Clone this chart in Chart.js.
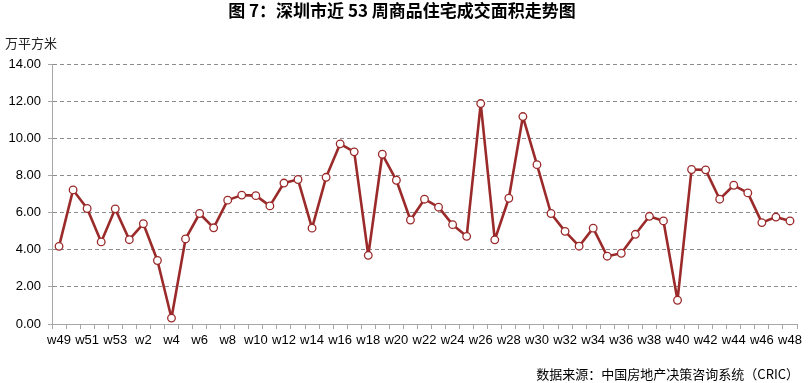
<!DOCTYPE html>
<html>
<head>
<meta charset="utf-8">
<script src="https://cdn.jsdelivr.net/npm/chart.js@4"></script>
<style>
  html, body { margin: 0; padding: 0; background: #fff; }
  #wrap { width: 809px; height: 383px; position: relative; }
</style>
</head>
<body>
<div id="wrap"><canvas id="c" width="809" height="383"></canvas></div>
<script>
const weeks = ['w49','w50','w51','w52','w53','w1','w2','w3','w4','w5','w6','w7','w8','w9','w10','w11','w12','w13','w14','w15','w16','w17','w18','w19','w20','w21','w22','w23','w24','w25','w26','w27','w28','w29','w30','w31','w32','w33','w34','w35','w36','w37','w38','w39','w40','w41','w42','w43','w44','w45','w46','w47','w48'];
const area = [4.18,7.22,6.22,4.42,6.2,4.54,5.4,3.42,0.32,4.58,5.95,5.18,6.67,6.94,6.91,6.36,7.59,7.78,5.16,7.9,9.7,9.27,3.7,9.14,7.74,5.6,6.72,6.29,5.35,4.72,11.87,4.53,6.77,11.17,8.58,5.95,4.99,4.19,5.16,3.65,3.81,4.83,5.8,5.55,1.28,8.32,8.3,6.72,7.47,7.06,5.46,5.76,5.55];
const yTicks = [0,2,4,6,8,10,12,14];
const titleText = '图 7：深圳市近 53 周商品住宅成交面积走势图';
const unitText = '万平方米';
const sourceText = '数据来源：中国房地产决策咨询系统（CRIC）';

const cjk = '"Noto Sans CJK SC", "Noto Sans", sans-serif';
const latin = '"Liberation Sans", Arial, sans-serif';

const textPlugin = {
  id: 'texts',
  afterDraw(chart) {
    const ctx = chart.ctx;
    ctx.save();
    ctx.fillStyle = '#000';
    ctx.textBaseline = 'middle';
    ctx.font = 'bold 17px ' + cjk;
    ctx.textAlign = 'center';
    ctx.fillText(titleText, 402, 11);
    ctx.font = '13px ' + cjk;
    ctx.textAlign = 'left';
    ctx.fillStyle = '#222';
    ctx.fillText(unitText, 5, 43);
    ctx.textAlign = 'right';
    ctx.fillStyle = '#000';
    ctx.fillText(sourceText, 799, 374);
    ctx.restore();
  }
};

new Chart(document.getElementById('c'), {
  type: 'line',
  data: {
    labels: weeks,
    datasets: [{
      data: area,
      borderColor: '#9b2a2a',
      borderWidth: 2.6,
      borderJoinStyle: 'round',
      backgroundColor: '#ffffff',
      pointBackgroundColor: '#ffffff',
      pointBorderColor: '#9b2a2a',
      pointBorderWidth: 1.3,
      pointRadius: 3.8,
      tension: 0,
      fill: false
    }]
  },
  options: {
    responsive: false,
    animation: false,
    devicePixelRatio: 1,
    layout: { padding: { left: 0, right: 12, top: 64, bottom: 0 } },
    plugins: { legend: { display: false }, title: { display: false }, tooltip: { enabled: false } },
    scales: {
      x: {
        offset: true,
        grid: { offset: true, drawOnChartArea: false, drawTicks: true, tickLength: 5, color: '#a6a6a6' },
        border: { display: true, color: '#a6a6a6', width: 1 },
        ticks: {
          autoSkip: false, maxRotation: 0, minRotation: 0, padding: 4,
          color: '#000', font: { family: latin, size: 13 },
          callback: function(v, i) { return i % 2 === 0 ? weeks[i] : ''; }
        },
        afterFit(scale) { scale.height = 59; }
      },
      y: {
        min: 0, max: 14,
        afterBuildTicks(scale) { scale.ticks = yTicks.map(v => ({ value: v })); },
        grid: { color: '#8c8c8c', tickLength: 4, lineWidth: 1, tickColor: '#a6a6a6', tickBorderDash: [0, 0] },
        border: { display: true, color: '#a6a6a6', dash: [4, 3], width: 1 },
        ticks: {
          padding: 7, color: '#000', font: { family: latin, size: 13 },
          callback: v => v.toFixed(2)
        },
        afterFit(scale) { scale.width = 52; }
      }
    }
  },
  plugins: [textPlugin]
});
</script>
</body>
</html>
